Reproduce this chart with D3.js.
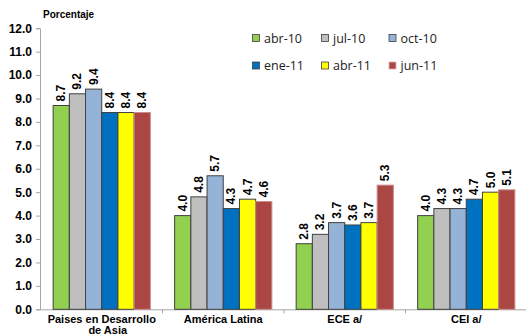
<!doctype html>
<html>
<head>
	<meta charset="utf-8">
	<title>Porcentaje</title>
	<script src="https://cdn.jsdelivr.net/npm/d3@7/dist/d3.min.js"></script>
	<style>
		body { margin: 0; background: #fff; }
		text { font-family: "Liberation Sans", Arial, sans-serif; }
	</style>
</head>
<body>
	<script>
		// chart data
		var categories = ['Paises en Desarrollo|de Asia', 'América Latina', 'ECE a/', 'CEI a/'];
		var seriesNames = ['abr-10', 'jul-10', 'oct-10', 'ene-11', 'abr-11', 'jun-11'];
		var seriesColors = ['#92D050', '#BFBFBF', '#95B3D7', '#0070C0', '#FFFF00', '#AA4643'];
		var abr10 = [8.7, 4.0, 2.8, 4.0];
		var jul10 = [9.2, 4.8, 3.2, 4.3];
		var oct10 = [9.4, 5.7, 3.7, 4.3];
		var ene11 = [8.4, 4.3, 3.6, 4.7];
		var abr11 = [8.4, 4.7, 3.7, 5.0];
		var jun11 = [8.4, 4.6, 5.3, 5.1];
		var seriesValues = [abr10, jul10, oct10, ene11, abr11, jun11];
		var yTicks = [0, 1, 2, 3, 4, 5, 6, 7, 8, 9, 10, 11, 12];

		var width = 526, height = 335;
		var plotLeft = 41, plotRight = 527, plotTop = 28.2, plotBottom = 309.3;

		var svg = d3.select('body').append('svg')
			.attr('width', width)
			.attr('height', height);

		var x0 = d3.scaleBand()
			.domain(categories)
			.range([plotLeft, plotRight])
			.paddingInner(0.2)
			.paddingOuter(0.1);

		var x1 = d3.scaleBand()
			.domain(seriesNames)
			.range([0, x0.bandwidth()]);

		var y = d3.scaleLinear()
			.domain([0, 12])
			.range([plotBottom, plotTop]);

		// y axis
		var yAxis = svg.append('g')
			.attr('transform', 'translate(' + (plotLeft - 1) + ',0)')
			.call(d3.axisLeft(y).tickValues(yTicks).tickFormat(d3.format('.1f')).tickSize(4).tickPadding(4));
		yAxis.select('.domain').attr('stroke', '#A6A6A6');
		yAxis.selectAll('.tick line').attr('stroke', '#A6A6A6');
		yAxis.selectAll('.tick text')
			.attr('fill', '#000')
			.style('font-size', '12px')
			.style('font-weight', 'bold');

		// x axis line + boundary ticks
		var step = x0.step();
		var bounds = d3.range(categories.length + 1).map(function(i) { return plotLeft + i * step; });
		svg.append('line')
			.attr('x1', plotLeft - 1).attr('x2', plotRight)
			.attr('y1', plotBottom + 0.5).attr('y2', plotBottom + 0.5)
			.attr('stroke', '#A6A6A6');
		svg.selectAll('.xtick')
			.data(bounds.slice(1, -1))
			.enter().append('line')
			.attr('x1', function(d) { return d; })
			.attr('x2', function(d) { return d; })
			.attr('y1', plotBottom).attr('y2', plotBottom + 4)
			.attr('stroke', '#A6A6A6');

		// category labels
		svg.selectAll('.cat')
			.data(categories)
			.enter().append('text')
			.attr('y', plotBottom + 14)
			.attr('text-anchor', 'middle')
			.style('font-size', '11px')
			.style('font-weight', 'bold')
			.each(function(d) {
				var parts = d.split('|');
				var t = d3.select(this);
				parts.forEach(function(p, i) {
					t.append('tspan')
						.attr('x', x0(d) + x0.bandwidth() / 2 + (i > 0 ? 6 : 0))
						.attr('dy', i === 0 ? 0 : 11)
						.text(p);
				});
			});

		// bars
		var groups = svg.selectAll('.series')
			.data(seriesNames)
			.enter().append('g');

		groups.each(function(name, si) {
			var g = d3.select(this);
			var vals = seriesValues[si];
			g.selectAll('rect')
				.data(vals)
				.enter().append('rect')
				.attr('x', function(d, ci) { return x0(categories[ci]) + x1(name); })
				.attr('y', function(d) { return y(d); })
				.attr('width', x1.bandwidth())
				.attr('height', function(d) { return plotBottom - y(d); })
				.attr('fill', seriesColors[si])
				.attr('stroke', si === 5 ? '#C98A88' : '#404040')
				.attr('stroke-width', 1);

			g.selectAll('text')
				.data(vals)
				.enter().append('text')
				.attr('transform', function(d, ci) {
					var cx = x0(categories[ci]) + x1(name) + x1.bandwidth() / 2 + 4;
					return 'translate(' + cx + ',' + (y(d) - 4) + ') rotate(-90)';
				})
				.attr('text-anchor', 'start')
				.style('font-size', '12px')
				.style('font-weight', 'bold')
				.text(function(d) { return d.toFixed(1); });
		});

		// axis title
		svg.append('text')
			.attr('x', 43).attr('y', 18)
			.style('font-size', '10px')
			.style('font-weight', 'bold')
			.text('Porcentaje');

		// legend
		var legendX = [256, 325, 392.5];
		var legendY = [38, 65.5];
		var legend = svg.selectAll('.legend')
			.data(seriesNames)
			.enter().append('g')
			.attr('transform', function(d, i) {
				return 'translate(' + legendX[i % 3] + ',' + legendY[Math.floor(i / 3)] + ')';
			});
		legend.append('rect')
			.attr('x', -3.5).attr('y', -3.5)
			.attr('width', 7).attr('height', 7)
			.attr('fill', function(d, i) { return seriesColors[i]; })
			.attr('stroke', function(d, i) { return i === 5 ? '#E0B0B0' : '#404040'; })
			.attr('stroke-width', 0.8);
		legend.append('text')
			.attr('x', 8).attr('y', 4.5)
			.style('font-size', '12.5px')
			.style('font-family', '"Open Sans", sans-serif')
			.attr('fill', '#222')
			.text(function(d) { return d; });
	</script>
</body>
</html>
